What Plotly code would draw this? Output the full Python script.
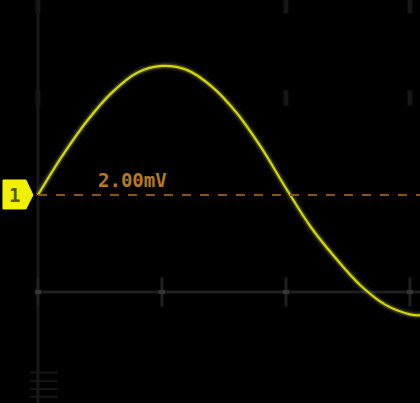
import plotly.graph_objects as go

# Oscilloscope trace: time (ms, 1 div) and voltage (mV)
time_ms = [0.0, 0.2, 0.4, 0.6, 0.8, 1.0, 1.2, 1.4, 1.6, 1.8, 2.0, 2.2, 2.4, 2.6, 2.8, 3.0, 3.08]
volt_mv = [2.00, 2.41, 2.77, 3.06, 3.26, 3.33, 3.29, 3.12, 2.85, 2.49, 2.07, 1.67, 1.35, 1.07, 0.87, 0.77, 0.76]

trigger_level = 2.00
trigger_label = "2.00mV"
channel_label = "1"
grid_times = [0, 1, 2, 3]
grid_level = 1.0

X_RANGE = [-0.306, 3.081]
Y_RANGE = [-0.144, 4.01]

fig = go.Figure()

# glow under trace
fig.add_trace(go.Scatter(x=time_ms, y=volt_mv, mode="lines",
                         line=dict(color="rgba(120,120,200,0.12)", width=9, shape="spline"),
                         hoverinfo="skip", showlegend=False))
fig.add_trace(go.Scatter(x=time_ms, y=volt_mv, mode="lines",
                         line=dict(color="rgba(200,200,0,0.25)", width=5, shape="spline"),
                         hoverinfo="skip", showlegend=False))
fig.add_trace(go.Scatter(x=time_ms, y=volt_mv, mode="lines",
                         line=dict(color="#d4d800", width=2.2, shape="spline"),
                         showlegend=False))

shapes = []
# vertical grid axis at t=0
shapes.append(dict(type="line", x0=0, x1=0, y0=Y_RANGE[0], y1=Y_RANGE[1],
                   line=dict(color="#181818", width=3), layer="below"))
# horizontal grid line
shapes.append(dict(type="line", x0=0, x1=X_RANGE[1], y0=grid_level, y1=grid_level,
                   line=dict(color="#1f1f1f", width=3), layer="below"))
# tick marks on horizontal grid
for gt in grid_times:
    shapes.append(dict(type="line", x0=gt, x1=gt, y0=grid_level - 0.15, y1=grid_level + 0.15,
                       line=dict(color="#1f1f1f", width=3), layer="below"))
    shapes.append(dict(type="line", x0=gt - 0.025, x1=gt + 0.025, y0=grid_level, y1=grid_level,
                       line=dict(color="#353535", width=4), layer="below"))
# faint marks at top
for gt in [0, 2, 3]:
    for lv in [3.0, 3.95]:
        shapes.append(dict(type="line", x0=gt, x1=gt, y0=lv - 0.08, y1=lv + 0.08,
                           line=dict(color="#161616", width=5), layer="below"))
# bottom-left faint dashes
for lv in [-0.0, -0.08, 0.17, 0.08]:
    shapes.append(dict(type="line", x0=-0.065, x1=0.16, y0=lv, y1=lv,
                       line=dict(color="#161616", width=2), layer="below"))
# trigger level dashed line
shapes.append(dict(type="line", x0=0, x1=X_RANGE[1], y0=trigger_level, y1=trigger_level,
                   line=dict(color="#8a5518", width=2, dash="dash")))
# channel marker pentagon
shapes.append(dict(type="path",
                   path="M -0.282,2.155 L -0.097,2.155 L -0.04,2.0 L -0.097,1.856 L -0.282,1.856 Z",
                   fillcolor="#f0f000", line=dict(color="#f0f000", width=1)))
fig.update_layout(shapes=shapes)

fig.add_annotation(x=-0.19, y=trigger_level, text="<b>" + channel_label + "</b>", showarrow=False,
                   font=dict(family="DejaVu Sans Mono", size=19, color="#5a5a00"))
fig.add_annotation(x=0.76, y=2.15, text="<b>" + trigger_label + "</b>", showarrow=False,
                   font=dict(family="DejaVu Sans Mono", size=19, color="#b87a20"))

fig.update_layout(
    width=420, height=403,
    margin=dict(l=0, r=0, t=0, b=0),
    paper_bgcolor="#000000", plot_bgcolor="#000000",
    xaxis=dict(range=X_RANGE, visible=False, fixedrange=True),
    yaxis=dict(range=Y_RANGE, visible=False, fixedrange=True),
    showlegend=False,
)

fig.write_html("out.html", config={"displayModeBar": False},
               post_script="document.body.style.margin='0';document.body.style.background='#000';")
